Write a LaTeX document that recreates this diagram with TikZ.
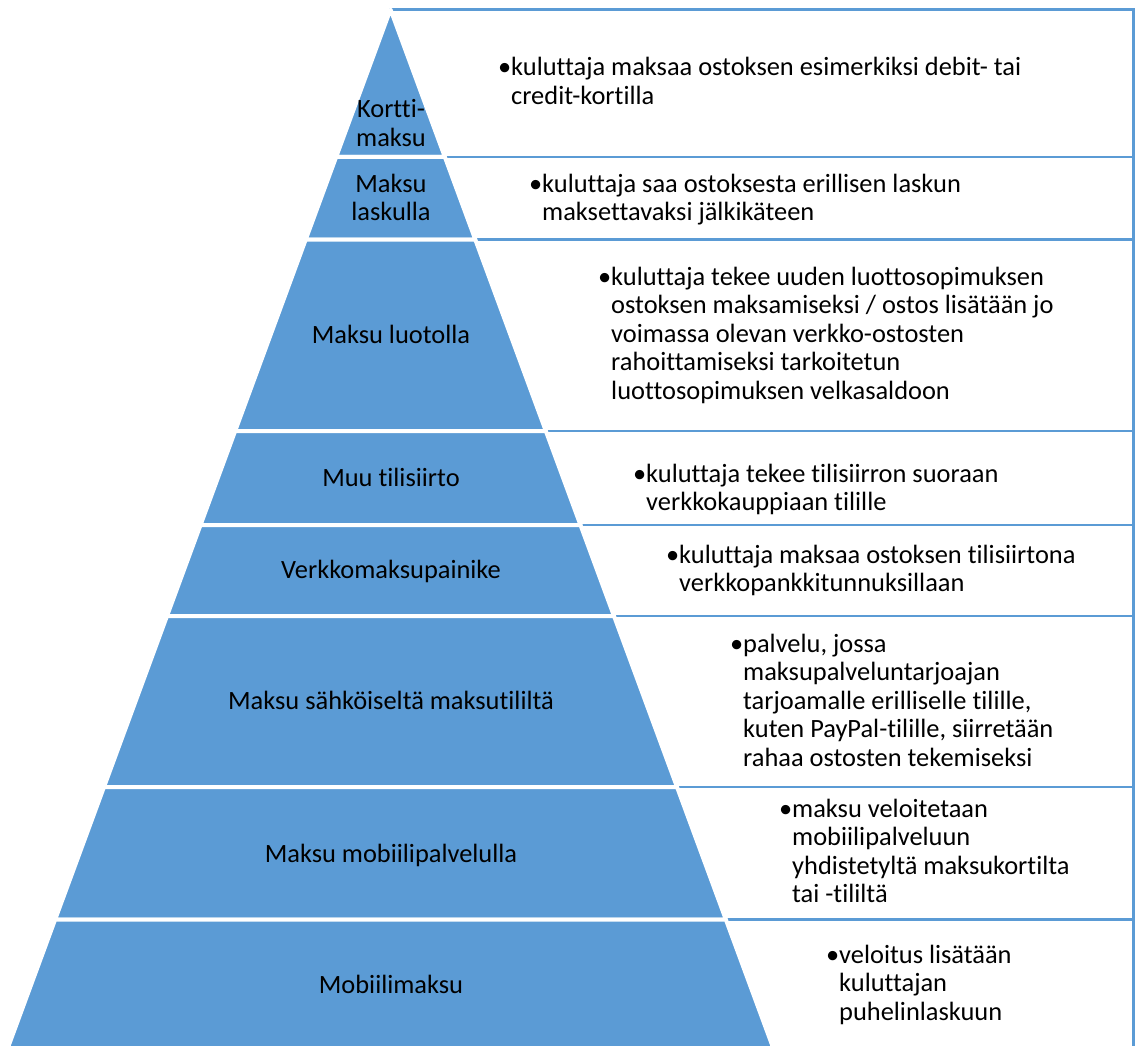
\documentclass[tikz,border=0pt]{standalone}
\usepackage{fontspec}
\setmainfont{Carlito}[Ligatures=NoCommon]
\usepackage{tikz}
\definecolor{pyrblue}{HTML}{5B9BD5}
\tikzset{layer/.style={fill=pyrblue, draw=white, line width=4pt, line join=round}}
\tikzset{infobox/.style={draw=pyrblue, fill=white, line width=2.8pt}}
\tikzset{lvltext/.style={anchor=base, inner sep=0pt,
    font=\fontsize{26.4}{28.6}\selectfont}}
\tikzset{infotext/.style={anchor=base west, inner sep=0pt,
    font=\fontsize{26.4}{28.6}\selectfont}}
\newcommand{\rows}[2][l]{\begin{tabular}[t]{@{}#1@{}}#2\end{tabular}}

\begin{document}
\begin{tikzpicture}[x=1pt, y=-1pt]
  \useasboundingbox (0,0) rectangle (1135,1046);
  % boxes behind the pyramid
  \foreach \t/\b in {9.5/157, 157/239.5, 239.5/431, 431/525, 525/616,
      616/787, 787/919.5, 919.5/1070}
    \draw[infobox] (390.5,\t) rectangle (1133.5,\b);
  % pyramid layers
  \foreach \t/\b in {9.5/157, 157/239.5, 239.5/431, 431/525, 525/616,
      616/787, 787/919.5, 919.5/1070} {
    \pgfmathsetmacro{\wt}{0.3685*(\t-9.5)}
    \pgfmathsetmacro{\wb}{0.3685*(\b-9.5)}
    \path[layer] (390.5-\wt,\t) -- (390.5+\wt,\t) -- (390.5+\wb,\b)
      -- (390.5-\wb,\b) -- cycle;
  }
  \node[lvltext] (lvl1) at (391,118) {\rows[c]{Kortti-\\maksu}};
  \node[lvltext] (lvl2) at (391,192) {\rows[c]{Maksu\\laskulla}};
  \node[lvltext] (lvl3) at (391,343) {Maksu luotolla};
  \node[lvltext] (lvl4) at (391,486) {Muu tilisiirto};
  \node[lvltext] (lvl5) at (391,578) {Verkkomaksupainike};
  \node[lvltext] (lvl6) at (391,709) {Maksu sähköiseltä maksutililtä};
  \node[lvltext] (lvl7) at (391,862) {Maksu mobiilipalvelulla};
  \node[lvltext] (lvl8) at (391,993) {Mobiilimaksu};
  % descriptions
  \node[infotext] (info1) at (511,76) {\rows{\llap{•}kuluttaja maksaa ostoksen
      esimerkiksi debit- tai\\credit-kortilla}};
  \node[infotext] (info2) at (542,192) {\rows{\llap{•}kuluttaja saa ostoksesta
      erillisen laskun\\maksettavaksi jälkikäteen}};
  \node[infotext] (info3) at (611,285) {\rows{\llap{•}kuluttaja tekee uuden
      luottosopimuksen\\ostoksen maksamiseksi / ostos lisätään jo\\voimassa
      olevan verkko-ostosten\\rahoittamiseksi tarkoitetun\\luottosopimuksen
      velkasaldoon}};
  \node[infotext] (info4) at (646,482) {\rows{\llap{•}kuluttaja tekee
      tilisiirron suoraan\\verkkokauppiaan tilille}};
  \node[infotext] (info5) at (679,563) {\rows{\llap{•}kuluttaja maksaa
      ostoksen tilisiirtona\\verkkopankkitunnuksillaan}};
  \node[infotext] (info6) at (743,652) {\rows{\llap{•}palvelu, jossa\\
      maksupalveluntarjoajan\\tarjoamalle erilliselle tilille,\\kuten
      PayPal-tilille, siirretään\\rahaa ostosten tekemiseksi}};
  \node[infotext] (info7) at (792,817) {\rows{\llap{•}maksu veloitetaan\\
      mobiilipalveluun\\yhdistetyltä maksukortilta\\tai -tililtä}};
  \node[infotext] (info8) at (839,963) {\rows{\llap{•}veloitus lisätään\\
      kuluttajan\\puhelinlaskuun}};
\end{tikzpicture}
\end{document}
